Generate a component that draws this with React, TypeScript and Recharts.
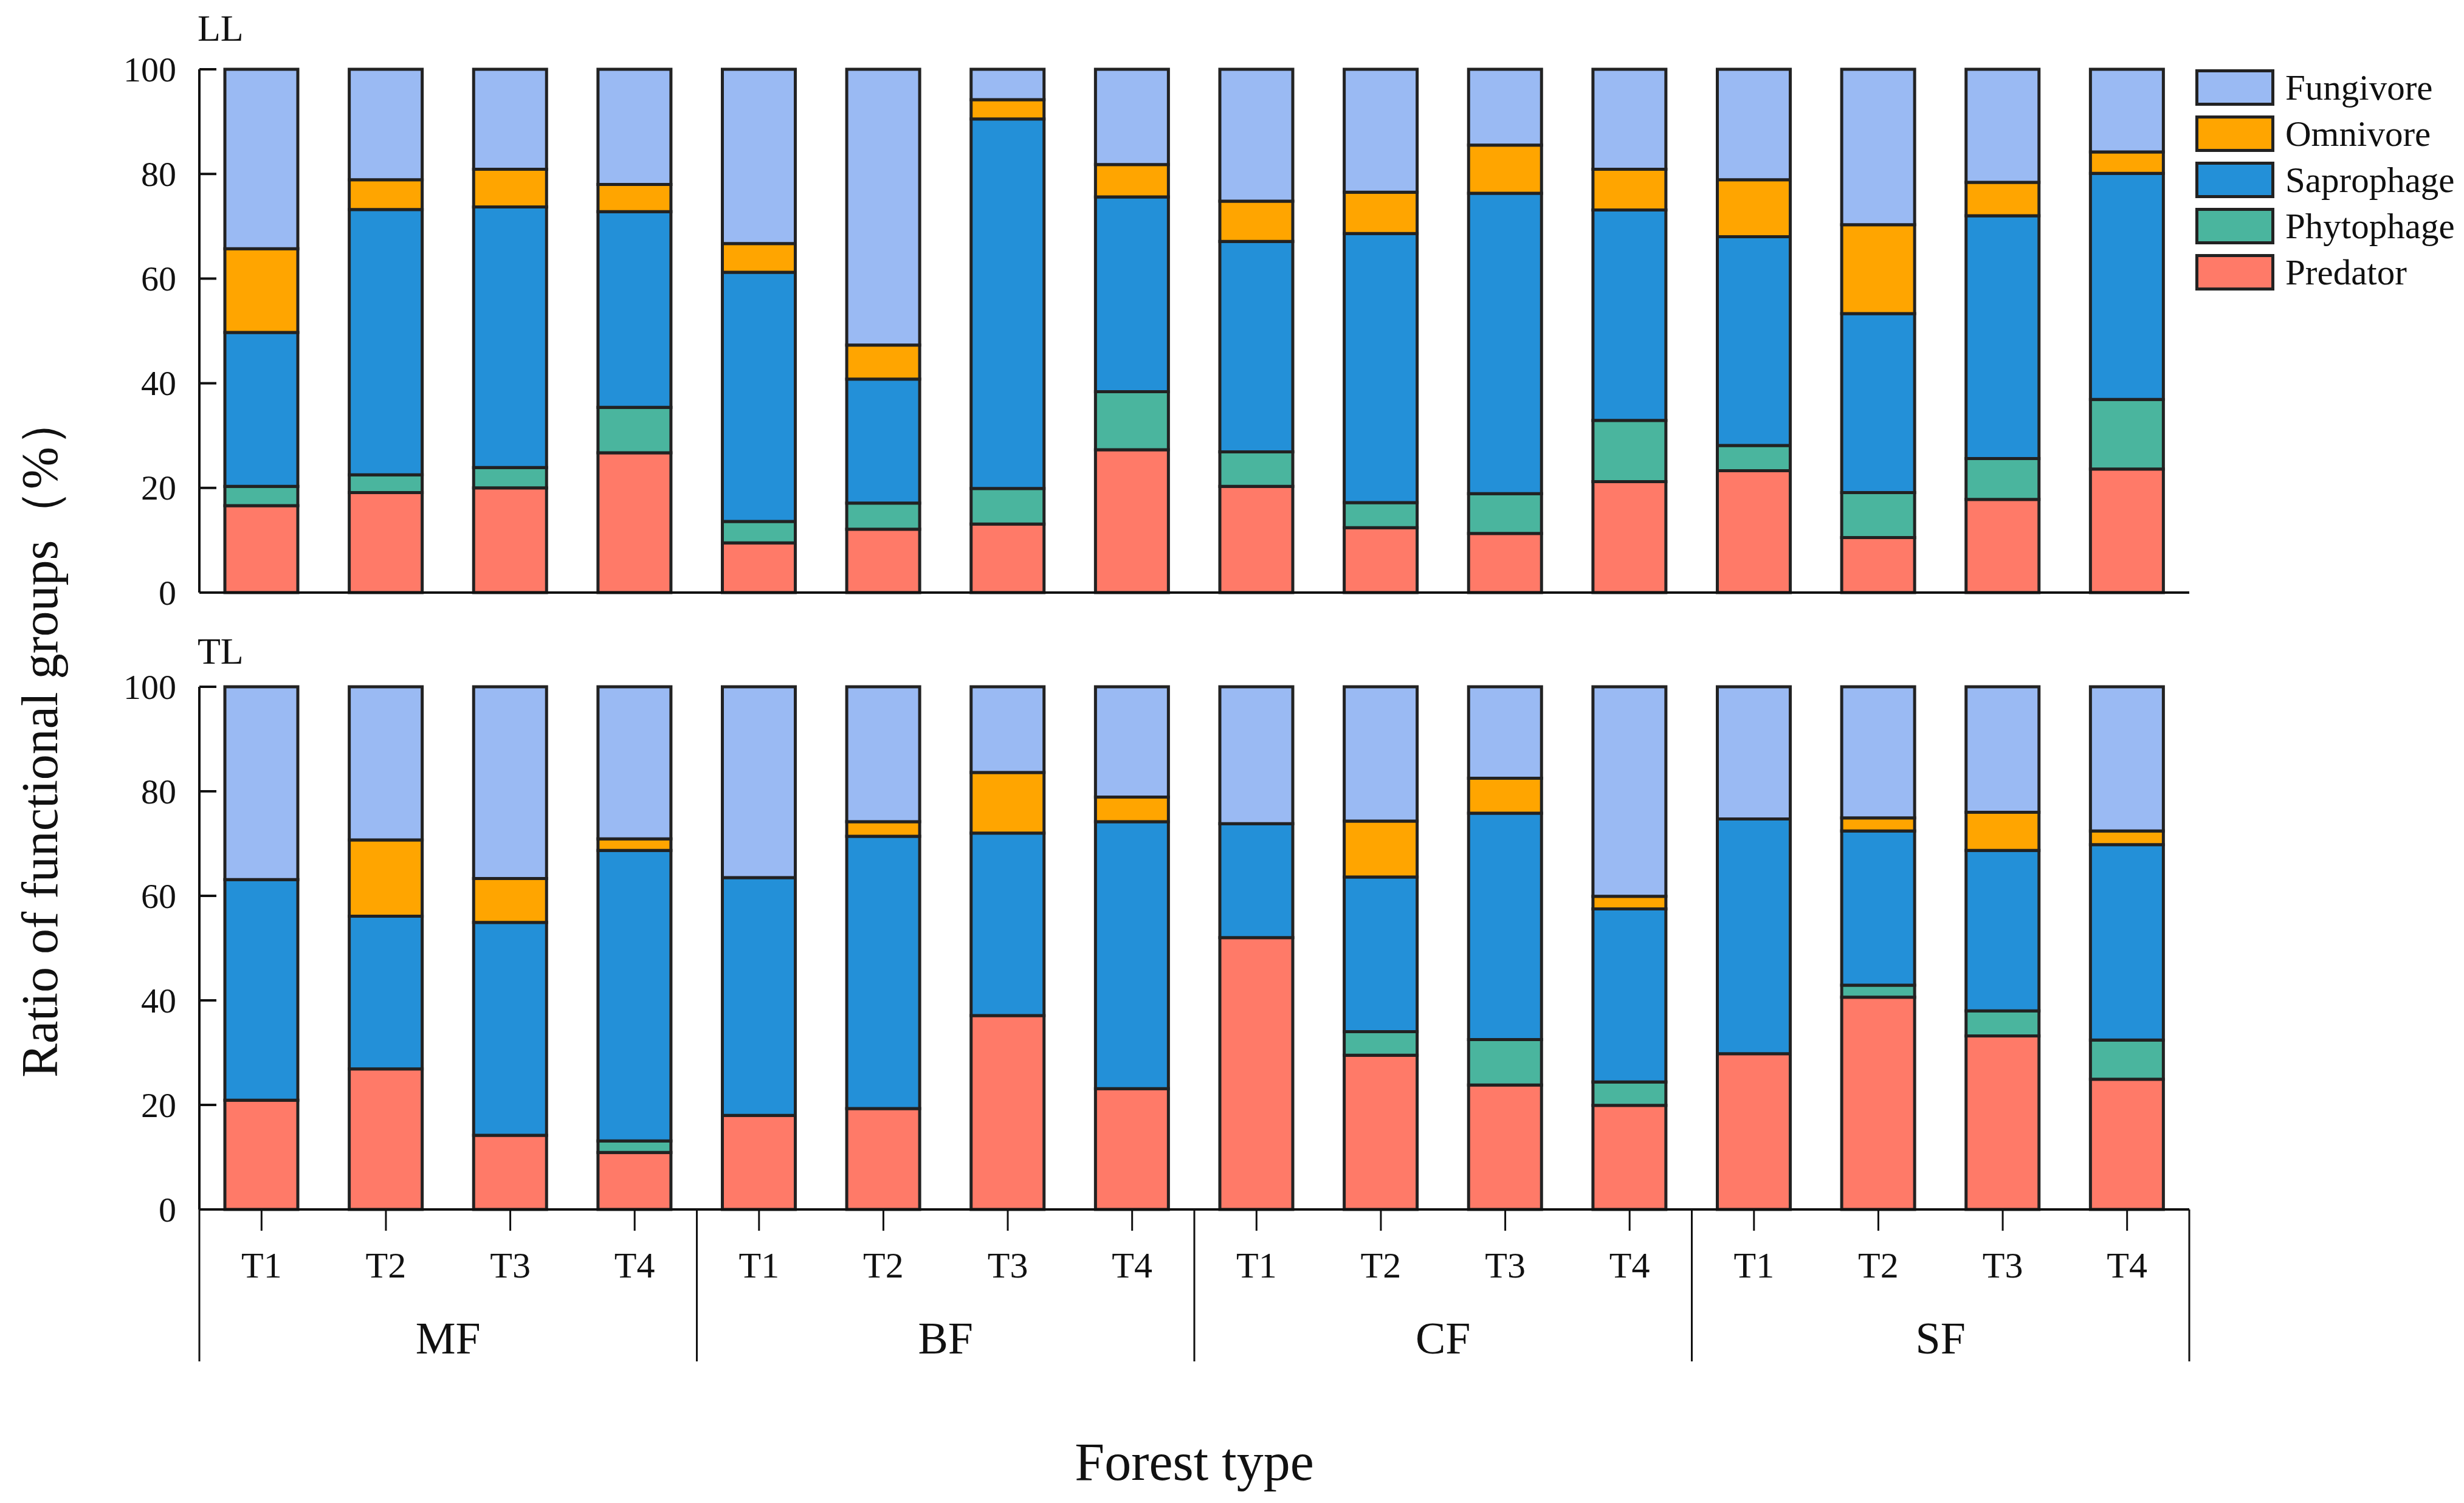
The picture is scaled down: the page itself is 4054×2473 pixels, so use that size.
import React from "react";
import { BarChart, Bar, XAxis, YAxis, Legend, Label } from "recharts";

const forests = ["MF", "BF", "CF", "SF"];
const treatments = ["T1", "T2", "T3", "T4"];
const yTicks = [0, 20, 40, 60, 80, 100];

// LL panel, order MF T1..T4, BF T1..T4, CF T1..T4, SF T1..T4
const llPredator = [16.6, 19.1, 20.0, 26.7, 9.5, 12.1, 13.1, 27.3, 20.3, 12.4, 11.3, 21.2, 23.3, 10.5, 17.8, 23.6];
const llPhytophage = [3.7, 3.4, 3.9, 8.7, 4.1, 5.0, 6.8, 11.1, 6.6, 4.8, 7.6, 11.7, 4.8, 8.6, 7.8, 13.3];
const llSaprophage = [29.4, 50.7, 49.8, 37.4, 47.6, 23.7, 70.6, 37.2, 40.2, 51.4, 57.4, 40.2, 39.9, 34.2, 46.4, 43.2];
const llOmnivore = [16.0, 5.7, 7.2, 5.2, 5.5, 6.5, 3.7, 6.2, 7.7, 7.9, 9.2, 7.8, 10.9, 17.0, 6.4, 4.1];
const llFungivore = [34.3, 21.1, 19.1, 22.0, 33.3, 52.7, 5.8, 18.2, 25.2, 23.5, 14.5, 19.1, 21.1, 29.7, 21.6, 15.8];

// TL panel
const tlPredator = [20.9, 26.9, 14.2, 10.9, 18.0, 19.3, 37.1, 23.1, 52.0, 29.5, 23.8, 19.9, 29.8, 40.6, 33.2, 24.9];
const tlPhytophage = [0, 0, 0, 2.2, 0, 0, 0, 0, 0, 4.5, 8.7, 4.5, 0, 2.3, 4.8, 7.5];
const tlSaprophage = [42.2, 29.2, 40.7, 55.6, 45.5, 52.1, 34.9, 51.1, 21.8, 29.6, 43.3, 33.1, 44.9, 29.5, 30.7, 37.4];
const tlOmnivore = [0, 14.6, 8.4, 2.2, 0, 2.8, 11.6, 4.7, 0, 10.7, 6.7, 2.4, 0, 2.5, 7.3, 2.6];
const tlFungivore = [36.9, 29.3, 36.7, 29.1, 36.5, 25.8, 16.4, 21.1, 26.2, 25.7, 17.5, 40.1, 25.3, 25.1, 24.0, 27.6];

// stacking order, bottom to top
const series = [
  { key: "Predator", color: "#FF7A68" },
  { key: "Phytophage", color: "#4AB59E" },
  { key: "Saprophage", color: "#2390D8" },
  { key: "Omnivore", color: "#FFA500" },
  { key: "Fungivore", color: "#9ABAF3" },
];
const legendOrder = ["Fungivore", "Omnivore", "Saprophage", "Phytophage", "Predator"];

const buildRows = (pred: number[], phyto: number[], sapro: number[], omni: number[], fungi: number[]) =>
  forests.flatMap((f, fi) =>
    treatments.map((t, ti) => {
      const i = fi * 4 + ti;
      return {
        key: f + "|" + t,
        Predator: pred[i],
        Phytophage: phyto[i],
        Saprophage: sapro[i],
        Omnivore: omni[i],
        Fungivore: fungi[i],
      };
    })
  );

const llData = buildRows(llPredator, llPhytophage, llSaprophage, llOmnivore, llFungivore);
const tlData = buildRows(tlPredator, tlPhytophage, tlSaprophage, tlOmnivore, tlFungivore);

const W = 4054;
const H = 2473;
const PLOT_L = 328;
const PLOT_R = 3602;
const Y_AXIS_W = 200;
const BAND = (PLOT_R - PLOT_L) / (forests.length * treatments.length);
const FONT = '"Liberation Serif", "Times New Roman", serif';
const INK = "#111";

const YTick = (props: any) => {
  const { x, y, payload } = props;
  return (
    <g>
      <line x1={x} x2={x + 28} y1={y} y2={y} stroke={INK} strokeWidth={4} />
      <text x={x - 38} y={y} textAnchor="end" dominantBaseline="central" fontSize={58} fontFamily={FONT} fill={INK}>
        {payload.value}
      </text>
    </g>
  );
};

const GroupTick = (props: any) => {
  const { x, y, index, payload } = props;
  const [forest, t] = String(payload.value).split("|");
  const first = index % treatments.length === 0;
  const last = index === forests.length * treatments.length - 1;
  return (
    <g>
      <line x1={x} x2={x} y1={y} y2={y + 35} stroke={INK} strokeWidth={3} />
      <text x={x} y={y + 92} textAnchor="middle" dominantBaseline="central" fontSize={60} fontFamily={FONT} fill={INK}>
        {t}
      </text>
      {first && (
        <>
          <line x1={x - BAND / 2} x2={x - BAND / 2} y1={y} y2={y + 250} stroke={INK} strokeWidth={3} />
          <text x={x + 1.5 * BAND} y={y + 212} textAnchor="middle" dominantBaseline="central" fontSize={74} fontFamily={FONT} fill={INK}>
            {forest}
          </text>
        </>
      )}
      {last && <line x1={x + BAND / 2} x2={x + BAND / 2} y1={y} y2={y + 250} stroke={INK} strokeWidth={3} />}
    </g>
  );
};

const LegendBox = (props: any) => {
  const payload = props.payload || [];
  const items = legendOrder
    .map((name) => payload.find((p: any) => p.value === name))
    .filter(Boolean);
  return (
    <div style={{ fontFamily: FONT }}>
      {items.map((it: any) => (
        <div key={it.value} style={{ display: "flex", alignItems: "center", height: 60, marginBottom: 16 }}>
          <div style={{ width: 120, height: 50, background: it.color, border: "5px solid #222" }} />
          <span style={{ marginLeft: 18, fontSize: 59, color: INK, whiteSpace: "nowrap" }}>{it.value}</span>
        </div>
      ))}
    </div>
  );
};

const bars = () =>
  series.map((s) => (
    <Bar
      key={s.key}
      dataKey={s.key}
      name={s.key}
      stackId="a"
      fill={s.color}
      stroke="#222"
      strokeWidth={5}
      barSize={120}
      isAnimationActive={false}
    />
  ));

const yAxis = () => (
  <YAxis
    domain={[0, 100]}
    ticks={yTicks}
    width={Y_AXIS_W}
    tickSize={0}
    tickMargin={0}
    tickLine={false}
    axisLine={{ stroke: INK, strokeWidth: 4 }}
    tick={<YTick />}
    interval={0}
  />
);

export default function App() {
  return (
    <div style={{ position: "absolute", left: 0, top: 0, width: W, height: H, background: "#fff", fontFamily: FONT }}>
      <div style={{ position: "absolute", left: 0, top: 0 }}>
        <BarChart
          width={W}
          height={1040}
          data={llData}
          margin={{ top: 114, right: W - PLOT_R, bottom: 55, left: PLOT_L - Y_AXIS_W }}
        >
          <XAxis dataKey="key" height={10} tick={false} tickLine={false} axisLine={{ stroke: INK, strokeWidth: 4 }} />
          {yAxis()}
          <Legend
            layout="vertical"
            align="center"
            verticalAlign="middle"
            content={<LegendBox />}
            wrapperStyle={{ left: 3612, top: 114, width: 440 }}
          />
          {bars()}
        </BarChart>
      </div>
      <div style={{ position: "absolute", left: 0, top: 1000 }}>
        <BarChart
          width={W}
          height={H - 1000}
          data={tlData}
          margin={{ top: 130, right: W - PLOT_R, bottom: 0, left: PLOT_L - Y_AXIS_W }}
        >
          <XAxis
            dataKey="key"
            height={483}
            interval={0}
            tickSize={0}
            tickMargin={0}
            tickLine={false}
            axisLine={{ stroke: INK, strokeWidth: 4 }}
            tick={<GroupTick />}
          >
            <Label value="Forest type" position="insideBottom" offset={38} fontSize={88} fontFamily={FONT} fill={INK} />
          </XAxis>
          {yAxis()}
          {bars()}
        </BarChart>
      </div>
      <svg style={{ position: "absolute", left: 0, top: 0 }} width={W} height={H} pointerEvents="none">
        <text x={325} y={67} fontSize={62} fontFamily={FONT} fill={INK}>LL</text>
        <text x={325} y={1092} fontSize={62} fontFamily={FONT} fill={INK}>TL</text>
        <text
          x={65}
          y={1212}
          transform="rotate(-90, 65, 1212)"
          textAnchor="middle"
          dominantBaseline="central"
          fontSize={84}
          fontFamily={FONT}
          fill={INK}
        >
          Ratio of functional groups（%）
        </text>
      </svg>
    </div>
  );
}
